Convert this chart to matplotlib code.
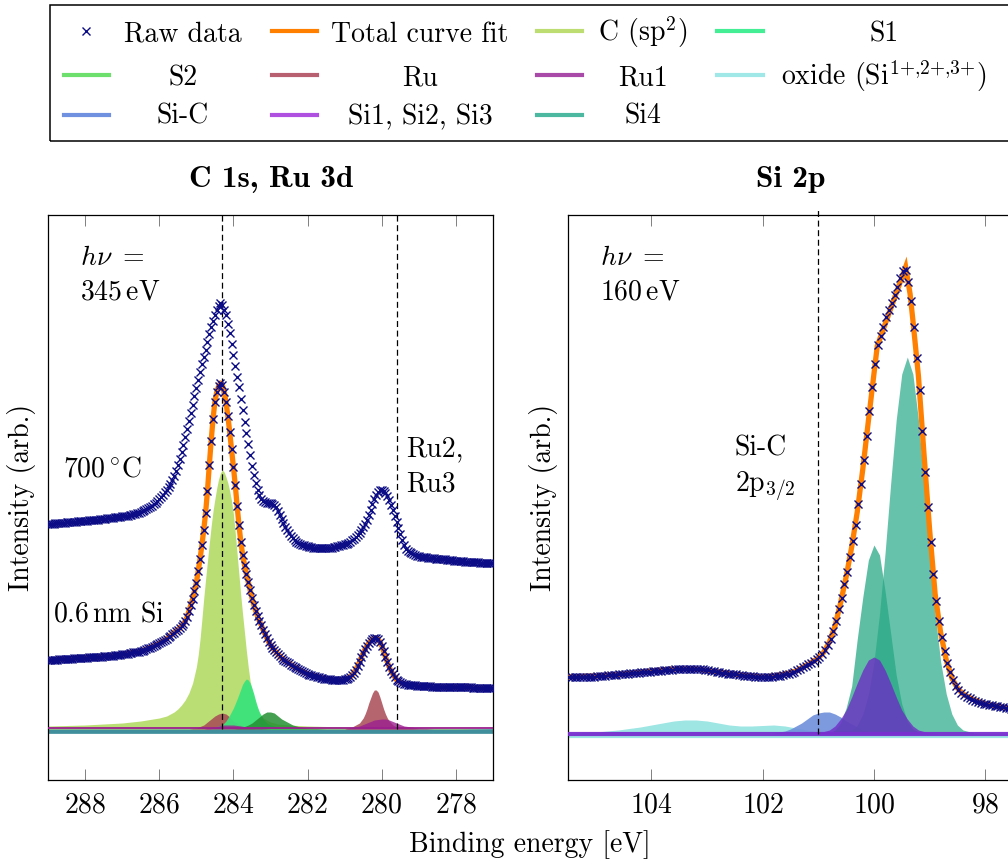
import numpy as np
import matplotlib
matplotlib.use("Agg")
import matplotlib.pyplot as plt
from matplotlib.lines import Line2D
from matplotlib.patches import Rectangle

plt.rcParams["font.family"] = "cmr10"
plt.rcParams["mathtext.fontset"] = "cm"
plt.rcParams["axes.formatter.use_mathtext"] = True
plt.rcParams["lines.scale_dashes"] = False
FS = 20

# ---------------- C 1s / Ru 3d  (hv = 345 eV), 50 meV steps ----------------
c1s_energy = np.round(np.arange(289.0, 276.975, -0.05), 3)

c1s_700C = [
    205, 205, 205, 205.5, 206, 206, 206, 206, 206, 206.5,
    207, 207, 207, 207, 207, 207.5, 208, 208, 208, 208,
    208, 208.5, 209, 209, 209, 209, 209, 209.5, 210, 210,
    210, 210.5, 211, 211, 211, 211.5, 212, 212, 212, 212.5,
    213, 213, 213, 213.5, 214, 214.5, 215, 215.5, 216, 216.5,
    217, 218, 219, 220, 221, 222, 223, 224.5, 226, 228,
    230, 232, 234, 236.5, 239,
    242, 245, 249, 253, 258, 264, 270, 277, 284, 292, 300, 308, 316, 324, 333, 341,
    349, 357, 365, 372, 379, 387, 395, 402, 408, 414, 419, 423, 426, 424, 419, 414,
    405, 396, 385, 374, 363, 352, 342, 330, 319, 307, 296, 285, 274, 263, 254, 246,
    239, 234, 230, 228, 227, 226, 226, 226,
    225, 224, 222, 218, 214, 210, 206, 202, 199, 196,
    193.5, 191, 189, 187, 186, 185, 184.5, 184, 183.5, 183,
    182.5, 182, 181.5, 181, 181, 181, 181, 181, 181, 181,
    181, 181, 181.5, 182, 182.5, 183, 183.5, 184, 184.5, 185,
    185, 186, 187, 189, 190, 192, 194, 196, 199, 202, 205, 209, 214, 219, 225, 230,
    234, 237, 239, 239, 238, 236, 233, 229, 224, 219, 213, 207, 201, 195, 189, 184,
    180, 178,
    177, 176, 175, 174, 173.5, 173, 172.5, 172, 172, 172,
    171.5, 171, 171, 171, 170.5, 170, 170, 170, 170, 170,
    169.5, 169, 169, 169, 168.5, 168, 168, 168, 168, 168,
    167.5, 167, 167, 167, 167, 167, 167, 167, 166.5, 166,
    166, 166, 166, 166, 166, 166]

c1s_06nm = [
    69, 69, 69, 69, 69, 69.5, 70, 70, 70, 70,
    70, 70, 70, 70.5, 71, 71, 71, 71, 71, 71,
    71, 71.5, 72, 72, 72, 72, 72, 72, 72, 72.5,
    73, 73, 73, 73, 73, 73.5, 74, 74, 74, 74.5,
    75, 75, 75, 75.5, 76, 76.5, 77, 77, 77, 77.5,
    78, 78.5, 79, 80, 81, 81.5, 82, 83, 84, 85,
    86, 87, 88, 89, 90,
    92, 93, 95, 96, 98, 99, 101, 103, 105, 108, 112, 118, 124, 130, 138, 146, 158, 170,
    184, 199, 216, 238, 264, 288, 310, 327, 337, 343, 346, 344, 337, 327, 313, 297,
    280, 262, 244, 223, 204, 187, 174, 164, 155, 147, 139, 131, 124, 118, 113, 108,
    104, 99, 95, 91, 87, 84,
    81.5, 79, 77, 75, 73, 71, 69.5, 68, 67, 66,
    64.5, 63, 62, 61, 60, 59, 58, 57, 56, 55,
    54.5, 54, 53.5, 53, 52.5, 52, 51.5, 51, 50.5, 50,
    50, 50, 49.5, 49, 49, 49, 49, 49, 49.5, 50,
    50, 51, 52, 54, 56, 59, 63, 67, 72, 76, 80, 83, 86, 88, 90, 91, 91, 90, 87, 83,
    78, 72, 67, 62, 58, 55, 52, 49, 48, 47, 46, 45, 45, 44,
    44, 44, 44, 44, 43.5, 43, 43, 43, 43, 43,
    43, 43, 42.5, 42, 42, 42, 42, 42, 42, 42,
    42, 42, 42, 42, 42, 42, 42, 42, 42, 42,
    42, 42, 42, 42, 41.5, 41, 41, 41, 41, 41,
    41, 41, 41, 41, 41, 41]

c1s_06nm_fit = [
    69, 69, 69, 69, 69, 69.5, 70, 70, 70, 70,
    70, 70, 70, 70.5, 71, 71, 71, 71, 71, 71,
    71, 71.5, 72, 72, 72, 72, 72, 72, 72, 72.5,
    73, 73, 73, 73, 73, 73.5, 74, 74, 74, 74.5,
    75, 75, 75, 75.5, 76, 76.5, 77, 77, 77, 77.5,
    78, 78.5, 79, 80, 81, 81.5, 82, 83, 84, 85,
    86, 87, 88, 89, 90,
    92, 93, 95, 96, 98, 99, 101, 103, 105, 108, 112, 118, 124, 130, 138, 146, 158, 170,
    184, 199, 216, 238, 264, 288, 310, 327, 337, 343, 346, 344, 337, 327, 313, 297,
    280, 262, 244, 223, 204, 187, 174, 164, 155, 147, 139, 131, 124, 118, 113, 108,
    104, 99, 95, 91, 87, 84,
    81.5, 79, 77, 75, 73, 71, 69.5, 68, 67, 66,
    64.5, 63, 62, 61, 60, 59, 58, 57, 56, 55,
    54.5, 54, 53.5, 53, 52.5, 52, 51.5, 51, 50.5, 50,
    50, 50, 49.5, 49, 49, 49, 49, 49, 49.5, 50,
    50, 51, 52, 54, 56, 59, 63, 67, 72, 76, 80, 83, 86, 88, 90, 91, 91, 90, 87, 83,
    78, 72, 67, 62, 58, 55, 52, 49, 48, 47, 46, 45, 45, 44,
    44, 44, 44, 44, 43.5, 43, 43, 43, 43, 43,
    43, 43, 42.5, 42, 42, 42, 42, 42, 42, 42,
    42, 42, 42, 42, 42, 42, 42, 42, 42, 42,
    42, 42, 42, 42, 41.5, 41, 41, 41, 41, 41,
    41, 41, 41, 41, 41, 41]

# fitted components of the 0.6 nm Si spectrum
csp2_E = [289.0, 288.5, 288.0, 287.5, 287.0, 286.5, 286.0, 285.8, 285.6, 285.5, 285.4, 285.3,
          285.2, 285.1, 285.0, 284.95, 284.9, 284.85, 284.8, 284.75, 284.7, 284.65, 284.6,
          284.55, 284.5, 284.45, 284.4, 284.35, 284.3, 284.25, 284.2, 284.15, 284.1, 284.05,
          284.0, 283.95, 283.9, 283.85, 283.8, 283.75, 283.7, 283.65, 283.6, 283.55, 283.5,
          283.4, 283.3, 283.2, 283.0, 282.8, 282.5, 282.0, 281.5, 281.0, 280.0, 279.0, 278.0, 277.0]
csp2_I = [3, 3.5, 4, 5, 6, 8, 11, 13, 17, 20, 24, 29, 36, 46, 62, 74, 90, 110, 131, 150, 168,
          186, 203, 218, 230, 241, 250, 256, 259, 257, 252, 246, 238, 228, 215, 196, 175, 154,
          133, 114, 96, 78, 62, 48, 38, 24, 16, 11, 7, 5, 4, 3, 2.5, 2, 1.5, 1, 0.5, 0]

s1_E = [284.6, 284.4, 284.3, 284.2, 284.1, 284.0, 283.9, 283.8, 283.75, 283.7, 283.65, 283.6,
        283.55, 283.5, 283.45, 283.4, 283.35, 283.3, 283.2, 283.1, 283.0, 282.8, 282.5, 282.0]
s1_I = [1, 3, 4, 8, 14, 21, 30, 40, 45, 48, 50, 49, 46, 41, 35, 28, 22, 17, 10, 6, 4, 2, 1, 0]

s2_E = [284.0, 283.8, 283.6, 283.5, 283.4, 283.3, 283.2, 283.1, 283.0, 282.9, 282.8, 282.7,
        282.6, 282.5, 282.4, 282.2, 282.0, 281.5]
s2_I = [0, 1, 4, 6, 9, 12, 15, 17, 17, 16, 13, 10, 8, 6, 4, 2, 1, 0]

ru_E = [285.2, 285.0, 284.8, 284.7, 284.6, 284.5, 284.4, 284.3, 284.2, 284.1, 284.0, 283.9,
        283.8, 283.6, 283.4, 281.0, 280.8, 280.7, 280.6, 280.5, 280.45, 280.4, 280.35, 280.3,
        280.25, 280.2, 280.15, 280.1, 280.05, 280.0, 279.95, 279.9, 279.85, 279.8, 279.7,
        279.6, 279.4, 279.0]
ru_I = [0, 1, 4, 7, 10, 13, 15, 16, 15, 12, 8, 6, 4, 1, 0, 0, 2, 4, 6, 11, 15, 20, 26, 31, 36,
        39, 39, 37, 32, 26, 20, 15, 11, 8, 4, 2, 1, 0]

ru1_E = [284.8, 284.5, 284.3, 284.0, 283.8, 283.5, 283.0, 281.0, 280.8, 280.6, 280.4, 280.2,
         280.0, 279.9, 279.8, 279.6, 279.4, 279.2, 279.0, 278.6]
ru1_I = [0, 2, 4, 4, 3, 1, 0, 0, 1, 3, 6, 9, 10, 10, 9, 6, 3, 2, 1, 0]

# Si-related components are empty in the C 1s window
c1s_span = [289.0, 277.0]
c1s_empty = [0, 0]

# ---------------- Si 2p  (hv = 160 eV), 50 meV steps ----------------
si2p_energy = np.round(np.arange(105.48, 97.455, -0.05), 3)
si2p_raw = [
    57, 57, 57, 57, 57, 57, 57, 57, 57, 57.5,
    58, 58, 58, 58.5, 59, 59, 59, 59.5, 60, 60,
    60, 60.5, 61, 61, 61, 61.5, 62, 62, 62, 62.5,
    63, 63, 63, 63.5, 64, 64, 64, 64.5, 65, 65,
    65, 65, 65, 65, 65, 65, 65, 65, 65, 64.5,
    64, 63.5, 63, 62.5, 62, 61.5, 61, 60.5, 60, 60,
    60, 59.5, 59, 58.5, 58, 58, 58, 57.5, 57, 57,
    57, 57, 57, 57.5, 58, 58, 58, 59, 60, 60.5,
    61,
    62, 64, 65, 67, 68, 70, 71, 73, 75, 77, 80, 84, 89, 95, 103, 113, 125, 136, 150,
    162, 177, 193, 209, 230, 250, 274, 298, 323, 347, 370, 389, 398, 407, 417, 424,
    431, 439, 447, 456, 463, 464, 452, 433, 407, 376, 344, 303, 262, 227, 192, 160,
    133, 113, 97, 83, 71, 62, 54, 48, 44, 41, 39, 37, 36,
    34.5, 33, 32, 31, 30.5, 30, 29.5, 29, 28.5, 28, 27.5, 27, 26.5, 26, 25.5, 25]

si2p_fit_E = [105.5, 105.0, 104.5, 104.0, 103.6, 103.2, 102.8, 102.4, 102.0, 101.8, 101.6,
              101.4, 101.2, 101.0, 100.9, 100.8, 100.7, 100.6, 100.5, 100.4, 100.3, 100.2,
              100.1, 100.0, 99.94, 99.43, 99.35, 99.3, 99.2, 99.1, 99.0, 98.9, 98.8, 98.7,
              98.6, 98.5, 98.4, 98.2, 98.0, 97.5]
si2p_fit = [57, 58, 60, 63, 65, 65, 62, 59, 57, 58, 60, 63, 69, 76, 82, 92, 108, 131, 157, 187,
            222, 265, 313, 360, 388, 467, 440, 414, 358, 280, 205, 140, 101, 74, 56, 46, 40, 34,
            30, 25]

si4a_E = [100.4, 100.3, 100.2, 100.1, 100.0, 99.9, 99.8, 99.7, 99.6, 99.5, 99.4, 99.3, 99.2,
          99.1, 99.0, 98.9, 98.8, 98.7, 98.6, 98.5, 98.4, 98.2, 98.0]
si4a_I = [4, 9, 20, 40, 72, 120, 181, 250, 314, 360, 377, 360, 314, 250, 181, 120, 72, 40, 20,
          9, 4, 1, 0]
si4b_E = [100.8, 100.7, 100.6, 100.5, 100.4, 100.3, 100.2, 100.1, 100.0, 99.9, 99.8, 99.7,
          99.6, 99.5, 99.4, 99.3, 99.2, 99.0]
si4b_I = [1, 4, 11, 26, 48, 95, 137, 174, 189, 179, 143, 101, 59, 30, 13, 5, 2, 0]

si123_E = [101.0, 100.8, 100.7, 100.6, 100.5, 100.4, 100.3, 100.2, 100.1, 100.0, 99.9, 99.8,
           99.7, 99.6, 99.5, 99.4, 99.3, 99.2, 99.0, 98.8]
si123_I = [1, 4, 8, 15, 24, 37, 51, 64, 74, 77, 74, 64, 51, 37, 24, 15, 8, 4, 1, 0]

sic_E = [101.8, 101.6, 101.5, 101.4, 101.3, 101.2, 101.1, 101.0, 100.9, 100.8, 100.7, 100.6,
         100.5, 100.4, 100.3, 100.2, 100.0, 99.8, 99.5]
sic_I = [1, 3, 5, 8, 11, 15, 19, 21, 22, 22, 20, 17, 13, 10, 7, 4, 2, 1, 0]

oxide_E = [105.5, 105.0, 104.6, 104.2, 104.0, 103.8, 103.6, 103.4, 103.3, 103.2, 103.0, 102.8,
           102.6, 102.4, 102.2, 102.0, 101.8, 101.6, 101.4, 101.2, 101.0, 100.8, 100.5]
oxide_I = [1, 2, 4, 7, 9, 11, 13, 14, 14, 14, 13, 11, 9, 8, 8, 8.5, 9, 8, 6, 4, 2, 1, 0]

si2p_span = [105.5, 97.5]
si2p_empty = [0, 0]

# reference lines (binding energies)
c1s_marks = [284.3, 279.6]
si2p_marks = [101.0]

assert len(c1s_energy) == len(c1s_700C) == len(c1s_06nm) == len(c1s_06nm_fit)
assert len(si2p_energy) == len(si2p_raw)

# ---------------- styling ----------------
NAVY = "#0c0c86"
ORANGE = "#ff8000"
legend_rows = [
    [("marker", "Raw data"), (ORANGE, "Total curve fit"), ("#bddc72", "C (sp$^2$)"),
     ("#44ee94", "S1")],
    [("#6ddf6d", "S2"), ("#b86070", "Ru"), ("#a94aa9", "Ru1"),
     ("#a0e8e8", r"oxide (Si$^{1{+}{,}2{+}{,}3{+}}$)")],
    [("#7090e0", "Si-C"), ("#b050e0", "Si1, Si2, Si3"), ("#4cb8a0", "Si4")],
]

W, H = 1008, 863
fig = plt.figure(figsize=(W / 100, H / 100), dpi=100)


def fx(px):
    return px / W


def fy(py):
    return 1 - py / H


ax1 = fig.add_axes([fx(48), fy(780), fx(445), 565 / H])
ax2 = fig.add_axes([fx(568), fy(780), fx(445), 565 / H])

for ax in (ax1, ax2):
    ax.tick_params(axis="x", direction="in", top=True, bottom=True, length=8, width=0.7,
                   color="#808080", labelsize=FS, pad=9)
    ax.tick_params(axis="y", left=False, right=False, labelleft=False)
    for sp in ax.spines.values():
        sp.set_linewidth(0.9)

MS, MEW = 5.4, 1.0
raw_style = dict(ls="none", marker="x", ms=MS, mew=MEW, color=NAVY, zorder=6)

# ---- C 1s panel ----
ax1.set_xlim(289, 277)
ax1.set_ylim(-51, 514)
ax1.set_xticks([288, 286, 284, 282, 280, 278])

ax1.plot(c1s_span, [v - 1.5 for v in c1s_empty], color="#3f8f9c", lw=3.4, zorder=1)
ax1.fill_between(csp2_E, csp2_I, color="#b7dd6c", alpha=0.95, lw=0, zorder=2)
ax1.fill_between(ru_E, ru_I, color="#a84a55", alpha=0.85, lw=0, zorder=3)
ax1.fill_between(s1_E, s1_I, color="#3ce37c", alpha=0.95, lw=0, zorder=3)
ax1.fill_between(s2_E, s2_I, color="#258f33", alpha=0.85, lw=0, zorder=3)
ax1.fill_between(ru1_E, ru1_I, color="#9b1f8e", alpha=0.8, lw=0, zorder=3)
ax1.plot(c1s_span, [v + 0.8 for v in c1s_empty], color="#9b1f8e", lw=1.3, zorder=3)

ax1.plot(c1s_energy, c1s_06nm_fit, color=ORANGE, lw=3.8, zorder=5, solid_capstyle="round")
ax1.plot(c1s_energy, c1s_700C, **raw_style)
ax1.plot(c1s_energy, c1s_06nm, **raw_style)
for e in c1s_marks:
    ax1.plot([e, e], [0, 514], color="black", lw=0.9, dashes=(4.3, 2.6), zorder=4)

# ---- Si 2p panel ----
ax2.set_xlim(105.5, 97.5)
ax2.set_ylim(-46, 519)
ax2.set_xticks([104, 102, 100, 98])

ax2.plot(si2p_span, [v - 1.5 for v in si2p_empty], color="#9de6e4", lw=3.0, zorder=1)
ax2.fill_between(oxide_E, oxide_I, color="#9de6e4", alpha=1.0, lw=0, zorder=2)
ax2.fill_between(sic_E, sic_I, color="#6f8fdb", alpha=0.9, lw=0, zorder=2)
ax2.fill_between(si4a_E, si4a_I, color="#4cb89c", alpha=0.85, lw=0, zorder=3)
ax2.fill_between(si4b_E, si4b_I, color="#28a884", alpha=0.75, lw=0, zorder=3)
ax2.fill_between(si123_E, si123_I, color="#6f25c8", alpha=0.75, lw=0, zorder=3)
ax2.plot(si2p_span, [v + 0.5 for v in si2p_empty], color="#7a2fd0", lw=3.0, alpha=0.95, zorder=3)

ax2.plot(si2p_fit_E, si2p_fit, color=ORANGE, lw=3.8, zorder=5, solid_joinstyle="miter")
ax2.plot(si2p_energy, si2p_raw, **raw_style)
for e in si2p_marks:
    ax2.plot([e, e], [0, 527], color="black", lw=0.9, dashes=(4.3, 2.6), zorder=4,
             clip_on=False)

# ---- annotations ----
def label(px, py, s, **kw):
    kw.setdefault("ha", "left")
    kw.setdefault("va", "baseline")
    fig.text(fx(px), fy(py), s, fontsize=FS, **kw)


label(80, 265, r"$h\nu\ =$")
label(80, 300, r"345$\,$eV")
label(63, 476, r"700$\,^{\circ}$C")
label(53, 621, r"0.6$\,$nm Si")
label(406, 456, "Ru2,")
label(406, 491, "Ru3")
label(600, 265, r"$h\nu\ =$")
label(600, 300, r"160$\,$eV")
label(735, 456, "Si-C")
label(735, 491, r"2p$_{3/2}$")

fig.text(fx(271), fy(187), "C 1s, Ru 3d", fontsize=22.5, ha="center", va="baseline",
         family="cmb10")
fig.text(fx(791), fy(187), "Si 2p", fontsize=22.5, ha="center", va="baseline", family="cmb10")
fig.text(fx(530), fy(852), "Binding energy [eV]", fontsize=FS, ha="center", va="baseline")
fig.text(fx(22), fy(497), "Intensity (arb.)", fontsize=FS, ha="center", va="center",
         rotation=90)
fig.text(fx(543), fy(497), "Intensity (arb.)", fontsize=FS, ha="center", va="center",
         rotation=90)

# ---- legend box ----
fig.add_artist(Rectangle((fx(50), fy(141)), fx(1030 - 50), 136 / H, transform=fig.transFigure,
                         fill=False, lw=1.1, edgecolor="black", clip_on=False))
handle_x = [(64, 109), (272, 317), (537, 582), (717, 763)]
text_cx = [183, 420, 643, 884]
handle_y = [31.5, 75, 115.5]
text_base = [41.5, 85, 124]
for r, row in enumerate(legend_rows):
    for c, (col, name) in enumerate(row):
        x0, x1 = handle_x[c]
        if col == "marker":
            fig.add_artist(Line2D([fx(86)], [fy(handle_y[r])], transform=fig.transFigure,
                                  ls="none", marker="x", ms=MS, mew=MEW, color=NAVY))
        else:
            fig.add_artist(Line2D([fx(x0), fx(x1)], [fy(handle_y[r])] * 2,
                                  transform=fig.transFigure, color=col, lw=3))
        fig.text(fx(text_cx[c]), fy(text_base[r]), name, fontsize=FS, ha="center",
                 va="baseline")

fig.savefig("out.png", dpi=100)
